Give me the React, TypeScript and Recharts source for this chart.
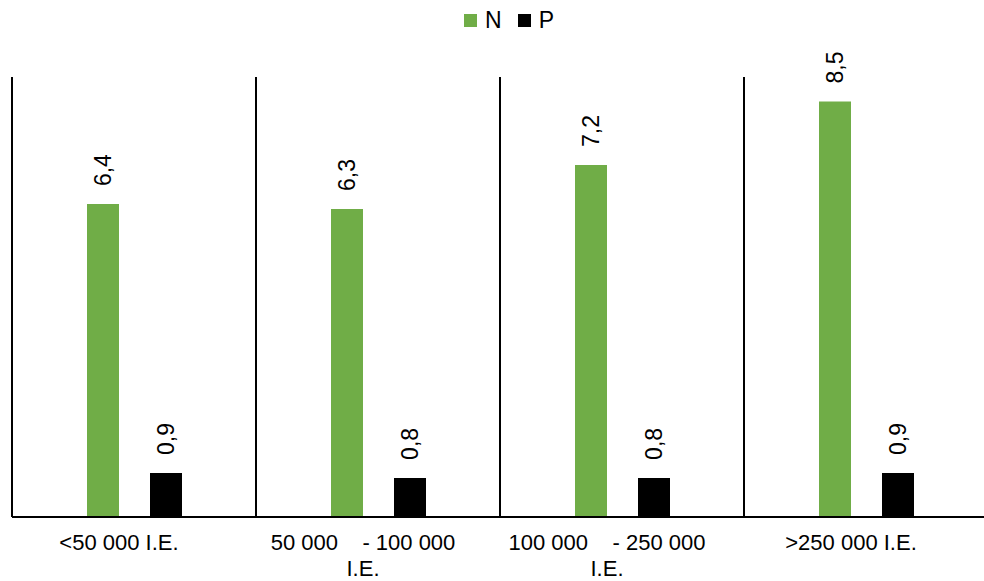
import { BarChart, Bar, XAxis, YAxis, CartesianGrid, Legend, LabelList } from "recharts";

// categories (line breaks as in the original axis labels)
const categories = [
  "<50 000 I.E.",
  "50 000\u00a0\u00a0\u00a0\u00a0- 100 000\nI.E.",
  "100 000\u00a0\u00a0\u00a0\u00a0- 250 000\nI.E.",
  ">250 000 I.E.",
];
const nValues = [6.4, 6.3, 7.2, 8.5];
const pValues = [0.9, 0.8, 0.8, 0.9];

const data = categories.map((c, i) => ({ cat: c, N: nValues[i], P: pValues[i] }));

const FONT = "'Liberation Sans', Arial, sans-serif";
const GREEN = "#70AD47";

function fmt(v: number) {
  return v.toFixed(1).replace(".", ",");
}

function CatTick(props: any) {
  const { x, y, payload } = props;
  const lines = String(payload.value).split("\n");
  return (
    <g>
      {lines.map((l, i) => (
        <text key={i} x={x - 15} y={y + 33 + i * 26} textAnchor="middle" fontSize={22} fontFamily={FONT} fill="#000">
          {l}
        </text>
      ))}
    </g>
  );
}

function RotLabel(props: any) {
  const { x, y, width, value } = props;
  const cx = x + width / 2;
  const ay = y - 18;
  return (
    <text
      x={cx}
      y={ay}
      transform={`rotate(-90 ${cx} ${ay})`}
      textAnchor="start"
      dominantBaseline="central"
      fontSize={23}
      fontFamily={FONT}
      fill="#000"
    >
      {fmt(value)}
    </text>
  );
}

function LegendBox(props: any) {
  const items = props.payload ?? [];
  return (
    <div style={{ height: 40, display: "flex", alignItems: "center", paddingLeft: 464, fontFamily: FONT, fontSize: 23 }}>
      {items.map((it: any) => (
        <div key={it.value} style={{ display: "flex", alignItems: "center", marginRight: 16 }}>
          <span style={{ width: 13, height: 13, background: it.color, display: "inline-block", marginRight: 8 }} />
          <span>{it.value}</span>
        </div>
      ))}
    </div>
  );
}

export default function App() {
  return (
    <div style={{ width: 984, height: 581, overflow: "hidden", position: "relative", fontFamily: FONT }}>
      <style>{`body{margin:0}`}</style>
      <BarChart
        width={990}
        height={581}
        data={data}
        margin={{ top: 37, right: 2, left: 12, bottom: 4 }}
        barSize={32}
        barGap={31}
      >
        <CartesianGrid
          horizontal={false}
          stroke="#000"
          strokeWidth={2}
          verticalCoordinatesGenerator={({ offset }: any) =>
            [0, 1, 2, 3, 4].map((i) => offset.left + (i * offset.width) / 4)
          }
        />
        <XAxis
          dataKey="cat"
          axisLine={{ stroke: "#000", strokeWidth: 2 }}
          tickLine={false}
          tickSize={0}
          tickMargin={0}
          height={60}
          interval={0}
          tick={<CatTick />}
        />
        <YAxis hide domain={[0, 9]} />
        <Legend
          verticalAlign="top"
          wrapperStyle={{ top: 0, left: 0, width: 984 }}
          content={<LegendBox />}
        />
        <Bar dataKey="N" fill={GREEN} isAnimationActive={false}>
          <LabelList dataKey="N" content={<RotLabel />} />
        </Bar>
        <Bar dataKey="P" fill="#000" isAnimationActive={false}>
          <LabelList dataKey="P" content={<RotLabel />} />
        </Bar>
      </BarChart>
    </div>
  );
}
